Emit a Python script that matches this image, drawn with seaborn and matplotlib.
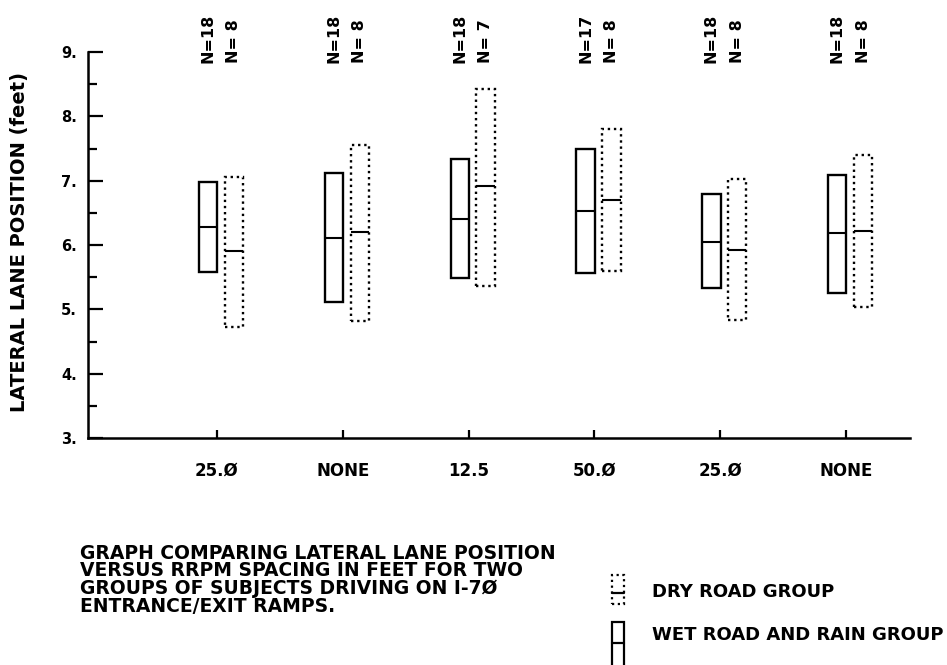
import matplotlib
matplotlib.use("Agg")
from matplotlib import pyplot as plt
from matplotlib.patches import Rectangle
from matplotlib.lines import Line2D
from matplotlib.ticker import MultipleLocator
import seaborn as sns
import pandas as pd

# RRPM spacing groups along the x axis
spacing = ["25.Ø", "NONE", "12.5", "50.Ø", "25.Ø", "NONE"]

# wet road and rain group (solid boxes)
wet_low = [5.58, 5.11, 5.49, 5.56, 5.33, 5.25]
wet_mid = [6.28, 6.11, 6.40, 6.53, 6.05, 6.18]
wet_high = [6.98, 7.12, 7.33, 7.50, 6.80, 7.09]
wet_n = [18, 18, 18, 17, 18, 18]

# dry road group (dotted boxes)
dry_low = [4.73, 4.82, 5.36, 5.60, 4.83, 5.04]
dry_mid = [5.90, 6.20, 6.91, 6.70, 5.93, 6.22]
dry_high = [7.06, 7.55, 8.42, 7.81, 7.03, 7.40]
dry_n = [8, 8, 7, 8, 8, 8]

yticks = [3, 4, 5, 6, 7, 8, 9]

caption = ("GRAPH COMPARING LATERAL LANE POSITION\n"
           "VERSUS RRPM SPACING IN FEET FOR TWO\n"
           "GROUPS OF SUBJECTS DRIVING ON I-7Ø\n"
           "ENTRANCE/EXIT RAMPS.")

wet = pd.DataFrame({"low": wet_low, "mid": wet_mid, "high": wet_high, "n": wet_n})
dry = pd.DataFrame({"low": dry_low, "mid": dry_mid, "high": dry_high, "n": dry_n})

sns.set_theme(style="white")
plt.rcParams["font.family"] = ["DejaVu Sans"]
for key in ["text.color", "axes.labelcolor", "xtick.color", "ytick.color"]:
    plt.rcParams[key] = "black"

W, H = 947, 665
fig = plt.figure(figsize=(W / 100, H / 100), dpi=100)
ax = fig.add_axes([88 / W, 227 / H, 822 / W, 386 / H])

dotted = (0, (1, 1.6))
box_w = 0.145
groups = [(wet, -0.07, "solid"), (dry, 0.135, dotted)]
for df, off, ls in groups:
    for i, row in df.iterrows():
        x = i + off
        ax.bar(x, row["high"] - row["low"], bottom=row["low"], width=box_w,
               facecolor="none", edgecolor="black", linewidth=1.7, linestyle=ls)
        ax.hlines(row["mid"], x - box_w / 2, x + box_w / 2, color="black",
                  linewidth=1.5)
        ax.text(x, 0.972, f"N={int(row['n']):2d}", transform=ax.get_xaxis_transform(),
                rotation=90, ha="center", va="bottom", fontsize=11.5,
                fontweight="bold", clip_on=False)

ax.set_xlim(-1.024, 5.508)
ax.set_ylim(3, 9)
ax.set_xticks(range(len(spacing)))
ax.set_xticklabels(spacing, fontsize=12, fontweight="bold")
ax.set_yticks(yticks)
ax.set_yticklabels([f"{t}." for t in yticks], fontsize=10.5, fontweight="bold")
ax.yaxis.set_minor_locator(MultipleLocator(0.5))

ax.tick_params(axis="y", which="major", direction="in", length=11, width=1.6,
               pad=8, left=True)
ax.tick_params(axis="y", which="minor", direction="in", length=6.5, width=1.6,
               left=True)
ax.tick_params(axis="x", which="major", direction="in", length=6, width=1.6,
               pad=17, bottom=True)

sns.despine(ax=ax)
for s in ["left", "bottom"]:
    ax.spines[s].set_linewidth(1.8)
    ax.spines[s].set_color("black")
ax.spines["left"].set_bounds(3, 9)

ax.set_ylabel("LATERAL LANE POSITION (feet)", fontsize=14, fontweight="bold")
ax.yaxis.set_label_coords(-0.072, 0.508)

fig.text(80 / W, 1 - 544 / H, caption, ha="left", va="top", fontsize=13.5,
         fontweight="bold", linespacing=0.9)

# legend symbols
def fig_rect(x0, y0, x1, y1, ls):
    fig.add_artist(Rectangle((x0 / W, 1 - y1 / H), (x1 - x0) / W, (y1 - y0) / H,
                             transform=fig.transFigure, facecolor="none",
                             edgecolor="black", linewidth=1.6, linestyle=ls))

fig_rect(612, 575, 624, 604, dotted)
fig.add_artist(Line2D([612 / W, 624 / W], [1 - 593 / H] * 2,
                      transform=fig.transFigure, color="black", linewidth=1.6))
fig_rect(612, 622, 624, 670, "solid")
fig.add_artist(Line2D([612 / W, 624 / W], [1 - 643 / H] * 2,
                      transform=fig.transFigure, color="black", linewidth=1.6))
fig.text(652 / W, 1 - 592 / H, "DRY ROAD GROUP", ha="left", va="center",
         fontsize=13, fontweight="bold")
fig.text(652 / W, 1 - 635 / H, "WET ROAD AND RAIN GROUP", ha="left",
         va="center", fontsize=13, fontweight="bold")

fig.savefig("out.png", dpi=100)
